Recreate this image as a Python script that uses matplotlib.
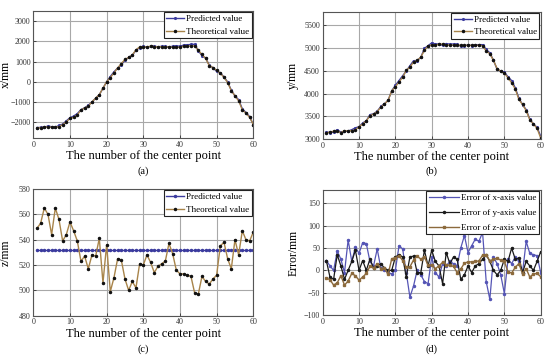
import numpy as np
import matplotlib
matplotlib.use("Agg")
import matplotlib.pyplot as plt

plt.rcParams['font.family'] = ['Liberation Serif', 'DejaVu Serif']

idx = list(range(1, 61))

x_theo = [-2290, -2270, -2250, -2240, -2250, -2250, -2230, -2120, -1990, -1820,
          -1760, -1640, -1400, -1300, -1220, -1000, -820, -640, -320, 0,
          200, 440, 680, 900, 1100, 1200, 1320, 1580, 1720, 1720,
          1720, 1760, 1740, 1720, 1730, 1730, 1720, 1700, 1700, 1710,
          1760, 1760, 1780, 1770, 1560, 1350, 1150, 800, 700, 560,
          420, 220, -40, -440, -700, -950, -1380, -1560, -1760, -2120]

y_theo = [3130, 3155, 3170, 3170, 3140, 3185, 3175, 3185, 3200, 3270,
          3330, 3400, 3510, 3550, 3600, 3700, 3770, 3850, 4060, 4150,
          4250, 4360, 4510, 4580, 4690, 4730, 4800, 4950, 5040, 5070,
          5070, 5080, 5090, 5060, 5070, 5060, 5060, 5060, 5060, 5060,
          5060, 5060, 5060, 5050, 4935, 4875, 4730, 4545, 4490, 4450,
          4345, 4235, 4100, 3870, 3760, 3625, 3425, 3330, 3235, 3020]

z_theo = [549, 553, 565, 560, 544, 565, 556, 539, 544, 554,
          547, 539, 523, 527, 517, 528, 527, 541, 506, 536,
          499, 510, 525, 524, 509, 500, 507, 502, 521, 520,
          528, 522, 514, 519, 521, 523, 537, 529, 516, 513,
          513, 512, 511, 498, 497, 511, 507, 505, 509, 512,
          535, 538, 525, 517, 540, 528, 547, 540, 539, 546]

z_pred = [532] * 60

err_x = [22, 10, 0, 43, 25, -5, 68, 20, 52, 38,
         62, 60, 20, 10, 48, 5, 0, -5, -8, 0,
         55, 48, -5, -60, -35, 0, -10, -25, -30, 30,
         -5, -15, 15, 10, 20, 15, 10, 50, 78, 40,
         55, 70, 65, 85, -25, -65, 30, 15, -10, -52,
         25, 15, 30, 20, -5, 65, 38, 35, 33, -5]

err_y = [22, -15, -20, 35, 10, -20, 0, 20, 45, 0,
         22, 0, 25, 5, 10, 15, 5, 0, 0, 30,
         35, 30, -15, 30, 32, -5, -5, 45, 10, 45,
         20, 10, -30, 40, 15, 30, 25, -20, -10, 10,
         -5, 10, 15, 25, 35, 20, 0, -10, 0, 25,
         20, 50, 25, 28, -5, 20, 10, 0, 20, 42]

err_z = [-17, -21, -33, -28, -12, -33, -24, -7, -12, -22,
         -15, -7, 9, 5, 15, 4, 5, -9, 26, 28,
         33, 22, 7, 8, 23, 32, 25, 30, 11, 12,
         4, 10, 18, 13, 11, 9, -5, 3, 16, 19,
         19, 20, 21, 34, 35, 21, 25, 27, 23, 20,
         -3, -6, 7, 15, -8, 4, -15, -8, -7, -14]

x_pred = list(np.array(x_theo) + np.array(err_x))
y_pred = list(np.array(y_theo) + np.array(err_y))

W, H = 550, 358
fig = plt.figure(figsize=(5.5, 3.58), dpi=100)

def ax_at(l, r, t, b):
    return fig.add_axes([l / W, 1 - b / H, (r - l) / W, (b - t) / H])

C_PRED = '#3b3b9e'
C_THEO = '#a8844a'
TICK_FS = 5.8
LAB_FS = 9

def style(ax, ylim, yticks, ylabel, letter, l, r, ylab_x, letter_y):
    ax.set_xlim(0, 60)
    ax.set_xticks(range(0, 61, 10))
    ax.set_ylim(*ylim)
    ax.set_yticks(yticks)
    ax.grid(True, color='#a8a8a8', lw=0.8)
    ax.set_axisbelow(True)
    ax.tick_params(direction='in', labelsize=TICK_FS, length=2, width=0.6,
                   colors='#333333', pad=2)
    for s in ax.spines.values():
        s.set_color('#555555')
        s.set_linewidth(0.8)
    ax.set_xlabel('The number of the center point', fontsize=LAB_FS, labelpad=1)
    ax.set_ylabel(ylabel, fontsize=LAB_FS - 0.5)
    ax.yaxis.set_label_coords((ylab_x - l) / (r - l), 0.5)
    fig.text((l + r) / 2 / W, 1 - letter_y / H, letter, ha='center', va='center', fontsize=7.5)

def legend(ax, fs=6.5, hl=2.0, ls=0.45):
    lg = ax.legend(loc='upper right', fontsize=fs, borderaxespad=0.15, fancybox=False,
                   edgecolor='#222222', framealpha=1, handlelength=hl, handletextpad=0.2,
                   borderpad=0.3, labelspacing=ls)
    lg.get_frame().set_linewidth(0.8)

# (a)
ax = ax_at(33.3, 253.3, 11, 138.3)
ax.plot(idx, x_pred, color=C_PRED, lw=1.0, marker='.', ms=2.5, label='Predicted value')
ax.plot(idx, x_theo, color=C_THEO, lw=1.0, marker='.', ms=3, mfc='#111111', mec='#111111',
        label='Theoretical value')
style(ax, (-2800, 3500), range(-2000, 3001, 1000), 'x/mm', '(a)', 33.3, 253.3, 11.5, 171)
legend(ax)

# (b)
ax = ax_at(322.7, 540.7, 11.7, 139)
ax.plot(idx, y_pred, color=C_PRED, lw=1.0, marker='.', ms=2.5, label='Predicted value')
ax.plot(idx, y_theo, color=C_THEO, lw=1.0, marker='.', ms=3, mfc='#111111', mec='#111111',
        label='Theoretical value')
style(ax, (3000, 5800), range(3000, 5501, 500), 'y/mm', '(b)', 322.7, 540.7, 299, 171)
legend(ax)

# (c)
ax = ax_at(33.3, 253.3, 189, 315.7)
ax.plot(idx, z_pred, color=C_PRED, lw=1.0, marker='.', ms=3, label='Predicted value')
ax.plot(idx, z_theo, color=C_THEO, lw=1.0, marker='.', ms=3, mfc='#111111', mec='#111111',
        label='Theoretical value')
style(ax, (480, 580), range(480, 581, 20), 'z/mm', '(c)', 33.3, 253.3, 11.5, 349)
legend(ax)

# (d)
ax = ax_at(322.7, 540.7, 190, 315)
ax.plot(idx, err_x, color='#5555b5', lw=0.9, marker='.', ms=3, label='Error of x-axis value')
ax.plot(idx, err_y, color='#1a1a1a', lw=0.9, marker='.', ms=3, label='Error of y-axis value')
ax.plot(idx, err_z, color='#8c6a3c', lw=1.0, marker='s', ms=2, label='Error of z-axis value')
style(ax, (-100, 180), range(-100, 151, 50), 'Error/mm', '(d)', 322.7, 540.7, 300, 349)
legend(ax, fs=6.5, hl=3.4, ls=0.7)

fig.savefig('out.png', dpi=100, facecolor='white')
